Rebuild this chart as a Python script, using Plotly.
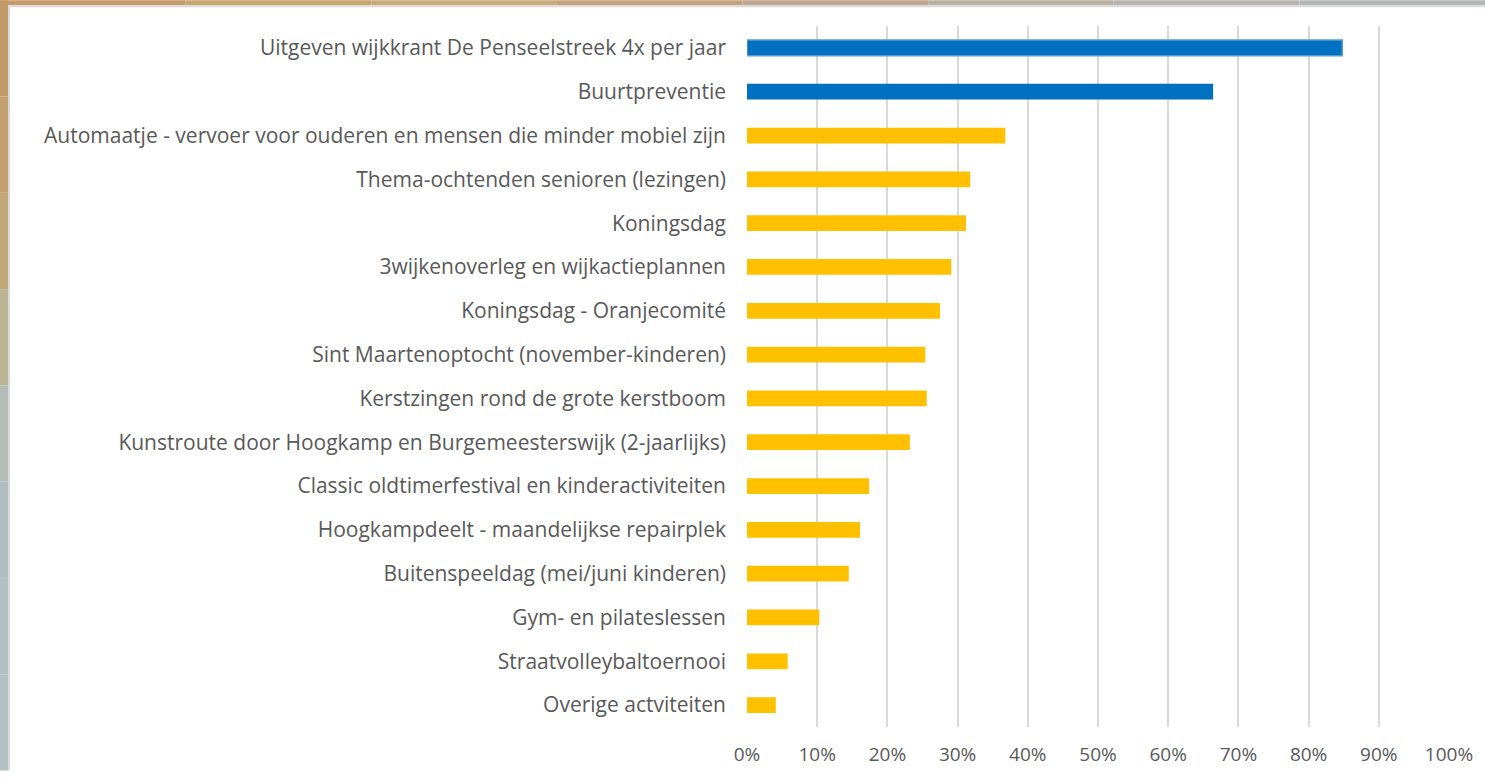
import plotly.graph_objects as go

categories = [
    "Uitgeven wijkkrant De Penseelstreek 4x per jaar",
    "Buurtpreventie",
    "Automaatje - vervoer voor ouderen en mensen die minder mobiel zijn",
    "Thema-ochtenden senioren (lezingen)",
    "Koningsdag",
    "3wijkenoverleg en wijkactieplannen",
    "Koningsdag - Oranjecomité",
    "Sint Maartenoptocht (november-kinderen)",
    "Kerstzingen rond de grote kerstboom",
    "Kunstroute door Hoogkamp en Burgemeesterswijk (2-jaarlijks)",
    "Classic oldtimerfestival en kinderactiviteiten",
    "Hoogkampdeelt - maandelijkse repairplek",
    "Buitenspeeldag (mei/juni kinderen)",
    "Gym- en pilateslessen",
    "Straatvolleybaltoernooi",
    "Overige actviteiten",
]
values = [0.848, 0.664, 0.368, 0.318, 0.312, 0.291, 0.275, 0.254,
          0.256, 0.232, 0.174, 0.161, 0.145, 0.103, 0.058, 0.041]
bar_colors = ["#0070C0", "#0070C0"] + ["#FFC000"] * 14
tick_vals = [i / 10 for i in range(11)]
tick_text = [f"{i*10}%" for i in range(11)]

W, H = 1485, 779
L, R, T, B = 747, 36, 26, 44
pw, ph = W - L - R, H - T - B


def px_x(p):
    return (p - L) / pw


def px_y(p):
    return (H - B - p) / ph


fig = go.Figure()
fig.add_trace(go.Bar(
    y=categories, x=values, orientation="h",
    marker=dict(color=bar_colors,
                line=dict(color=["#5B9BD5"] + ["rgba(0,0,0,0)"] * 15, width=1.5)),
    width=0.36, hoverinfo="x+y",
))

shapes = []
# textured border approximation: left strip (brown to grey) and top strip
left_cols = ["#C29A6A", "#C4A070", "#C2A878", "#BBB496", "#B3BDB7", "#B1BEBF", "#B3C0C2", "#B4C1C3"]
n = len(left_cols)
for i, c in enumerate(left_cols):
    y0p = i * H / n
    y1p = (i + 1) * H / n
    shapes.append(dict(type="rect", xref="paper", yref="paper",
                       x0=px_x(0), x1=px_x(8), y0=px_y(y1p), y1=px_y(y0p),
                       fillcolor=c, line=dict(width=0), layer="below"))
top_cols = ["#C49A68", "#C9A66E", "#C8AA78", "#C4A27E", "#BFA58F", "#BBAFA2", "#B8B4AE", "#B2B8B6"]
n = len(top_cols)
for i, c in enumerate(top_cols):
    x0p = i * W / n
    x1p = (i + 1) * W / n
    shapes.append(dict(type="rect", xref="paper", yref="paper",
                       x0=px_x(x0p), x1=px_x(x1p), y0=px_y(5), y1=px_y(0),
                       fillcolor=c, line=dict(width=0), layer="below"))
# light grey edge of the white panel
shapes.append(dict(type="rect", xref="paper", yref="paper",
                   x0=px_x(8), x1=px_x(10), y0=px_y(H), y1=px_y(5),
                   fillcolor="#DADADA", line=dict(width=0), layer="below"))
shapes.append(dict(type="rect", xref="paper", yref="paper",
                   x0=px_x(8), x1=px_x(W), y0=px_y(7), y1=px_y(5),
                   fillcolor="#DADADA", line=dict(width=0), layer="below"))

fig.update_layout(
    width=W, height=H, autosize=False,
    margin=dict(l=L, r=R, t=T, b=B, pad=0),
    paper_bgcolor="white", plot_bgcolor="white",
    font=dict(family="Open Sans, Calibri, sans-serif", size=21, color="#595959"),
    showlegend=False,
    bargap=0.64,
    shapes=shapes,
    xaxis=dict(range=[0, 1], tickvals=tick_vals, ticktext=tick_text,
               tickfont=dict(size=19),
               showgrid=True, gridcolor="#D9D9D9", gridwidth=1.5,
               zeroline=False, showline=False, ticks="",
               ticklabelstandoff=14, fixedrange=True),
    yaxis=dict(categoryorder="array", categoryarray=categories,
               range=[15.5, -0.5], showgrid=False, zeroline=False,
               showline=False, ticks="", ticklabelstandoff=20, fixedrange=True),
)

fig.write_html("out.html", config={"displayModeBar": False},
               post_script="document.body.style.margin='0px';document.body.style.overflow='hidden';")
